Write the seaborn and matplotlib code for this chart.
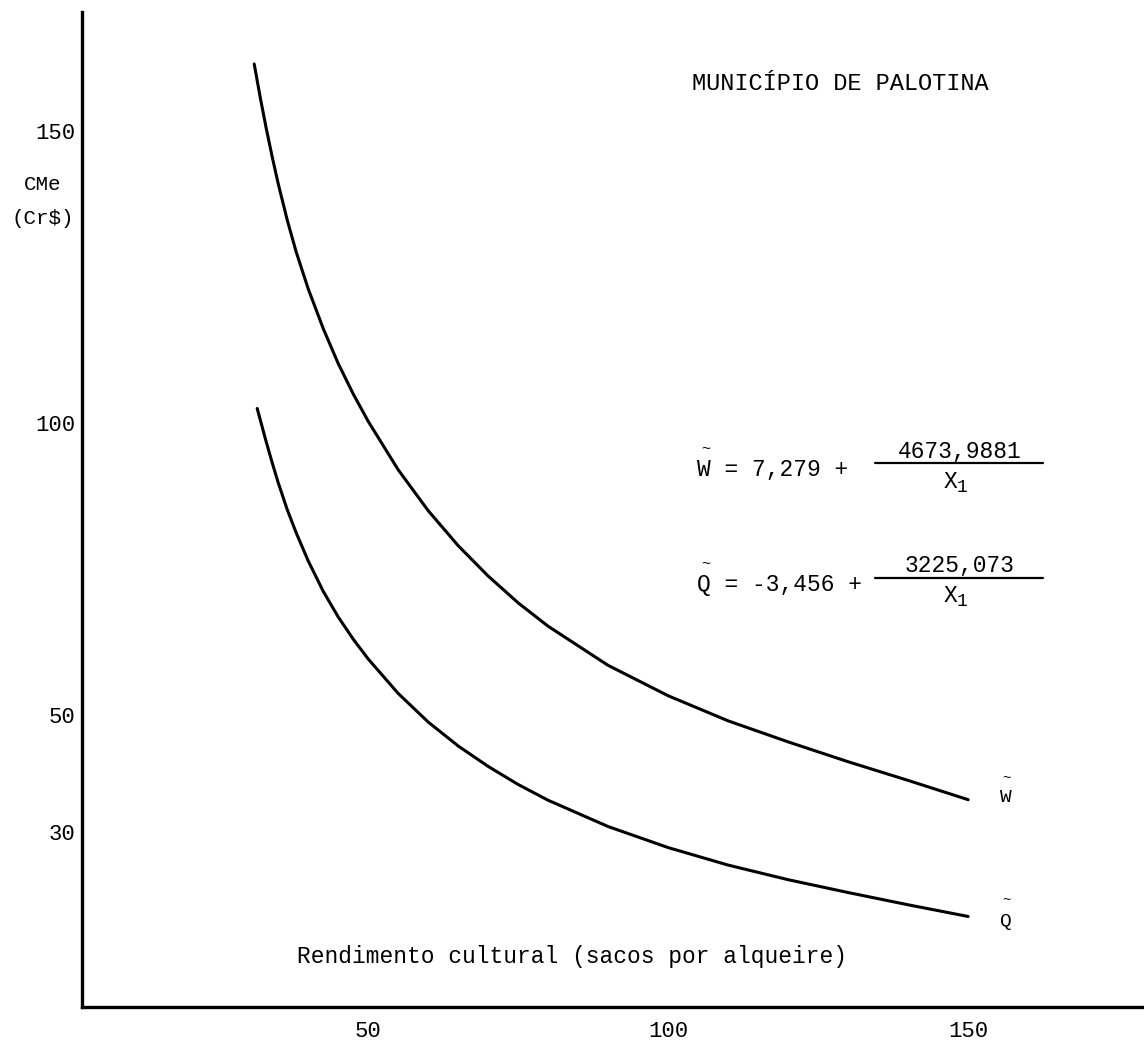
import matplotlib
matplotlib.use("Agg")
import matplotlib.pyplot as plt
import seaborn as sns
import pandas as pd

# values (Palotina, average cost curves)
x_w = [31, 32, 33, 34, 35, 36.5, 38, 40, 42.5, 45, 47.5, 50, 55, 60, 65, 70, 75, 80,
       90, 100, 110, 120, 130, 140, 150]
w_vals = [161.5, 155.8, 150.5, 145.6, 141, 134.8, 129.3, 123, 116.2, 110.2, 105, 100.3,
          92, 85, 79, 73.8, 69.2, 65.2, 58.5, 53.3, 49, 45.4, 42, 38.8, 35.5]
x_q = [31.5, 32, 33, 34, 35, 36.5, 38, 40, 42.5, 45, 47.5, 50, 55, 60, 65, 70, 75, 80,
       90, 100, 110, 120, 130, 140, 150]
q_vals = [102.5, 100.6, 96.8, 93.2, 89.8, 85.2, 81.2, 76.4, 71.2, 66.8, 63, 59.6,
          53.7, 48.8, 44.7, 41.2, 38.1, 35.4, 30.9, 27.3, 24.3, 21.8, 19.6, 17.5, 15.5]
x_ticks = [50, 100, 150]
y_ticks = [30, 50, 100, 150]

title = "MUNICÍPIO DE PALOTINA"
x_label = "Rendimento cultural (sacos por alqueire)"
eq_w = ("W = 7,279 + ", "4673,9881", "X")
eq_q = ("Q = -3,456 + ", "3225,073", "X")

sns.set_theme(style="white")
plt.rcParams["font.family"] = ["Liberation Mono", "DejaVu Sans Mono"]

W, H = 1144, 1041
fig = plt.figure(figsize=(W / 100, H / 100), dpi=100)
ax = fig.add_axes([82 / W, 1 - 1007 / H, (W - 82) / W, (1007 - 12) / H])

dfw = pd.DataFrame({"x": x_w, "y": w_vals})
dfq = pd.DataFrame({"x": x_q, "y": q_vals})
sns.lineplot(data=dfw, x="x", y="y", color="black", linewidth=2.2, sort=False, ax=ax)
sns.lineplot(data=dfq, x="x", y="y", color="black", linewidth=2.2, sort=False, ax=ax)

ax.set_xlim(2.3, 179.3)
ax.set_ylim(0, 170.4)
ax.set_xticks(x_ticks)
ax.set_yticks(y_ticks)
ax.set_xticklabels([str(t) for t in x_ticks], fontsize=16)
ax.set_yticklabels([str(t) for t in y_ticks], fontsize=16)
ax.tick_params(axis="x", direction="out", length=2, width=1.5, pad=8, colors="black")
ax.tick_params(axis="y", direction="out", length=4, width=1.5, pad=1, colors="black")
ax.set_xlabel("")
ax.set_ylabel("")
sns.despine(ax=ax)
for s in ["left", "bottom"]:
    ax.spines[s].set_linewidth(2.4)
    ax.spines[s].set_color("black")

def px(x, y, s, **kw):
    fig.text(x / W, 1 - y / H, s, color="black", **kw)

# axis titles and heading
px(43, 185, "CMe", fontsize=15, ha="center", va="center")
px(43, 218, "(Cr$)", fontsize=15, ha="center", va="center")
px(840, 84, title, fontsize=17, ha="center", va="center")
px(297, 956, x_label, fontsize=16.5, ha="left", va="center")

# equations
for (lhs, num, den), ym in [(eq_w, 467), (eq_q, 582)]:
    px(697, ym + 2, lhs, fontsize=16.5, ha="left", va="center")
    px(706, ym - 18, "~", fontsize=11, ha="center", va="center")
    px(960, ym - 16, num, fontsize=16.5, ha="center", va="center")
    fig.add_artist(plt.Line2D([875 / W, 1043 / W], [1 - (ym - 4) / H] * 2,
                              color="black", linewidth=1.6))
    px(950, ym + 14, den, fontsize=16.5, ha="center", va="center")
    px(962, ym + 20, "1", fontsize=13, ha="center", va="center")

# curve end labels
px(1006, 798, "W", fontsize=14, ha="center", va="center")
px(1006, 778, "~", fontsize=10, ha="center", va="center")
px(1006, 922, "Q", fontsize=14, ha="center", va="center")
px(1006, 900, "~", fontsize=10, ha="center", va="center")

fig.savefig("out.png", dpi=100)
